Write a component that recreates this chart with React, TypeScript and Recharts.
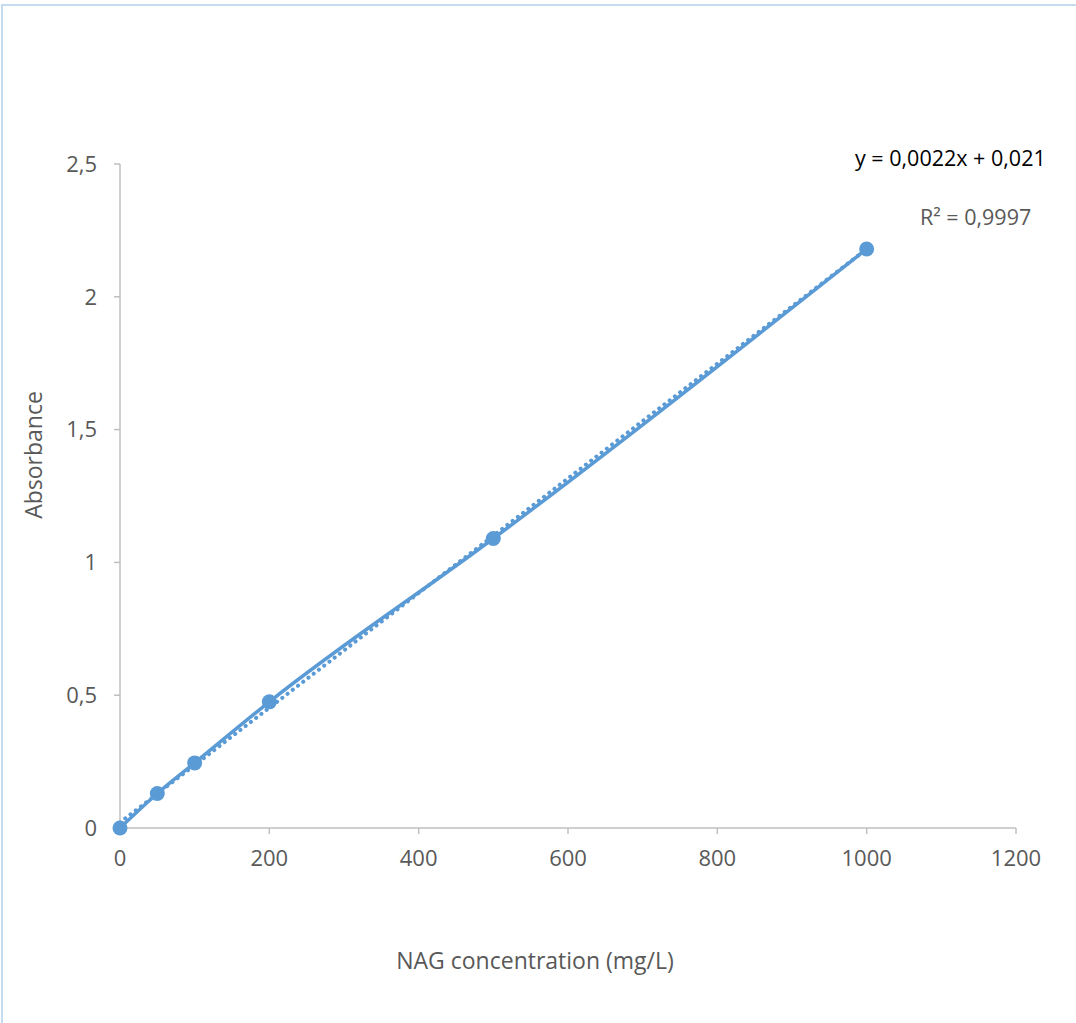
import { ComposedChart, Line, XAxis, YAxis } from 'recharts';

// NAG standard curve
const concentrations = [0, 50, 100, 200, 500, 1000];
const absorbances = [0, 0.13, 0.245, 0.475, 1.09, 2.18];

// linear trendline ends (y = 0,0022x + 0,021)
const trendX = [0, 1000];
const trendY = [0.021, 2.18];

const xTicks = [0, 200, 400, 600, 800, 1000, 1200];
const yTicks = [0, 0.5, 1, 1.5, 2, 2.5];

const equationText = 'y = 0,0022x + 0,021';
const r2Text = 'R² = 0,9997';
const xTitle = 'NAG concentration (mg/L)';
const yTitle = 'Absorbance';

const BLUE = '#5B9BD5';
const AXIS = '#BFBFBF';
const TEXT = '#595959';
const FONT = '"Open Sans", sans-serif';

const points = concentrations.map((x, i) => ({ x, y: absorbances[i] }));
const trend = trendX.map((x, i) => ({ x, y: trendY[i] }));

const comma = (v: number) => String(v).replace('.', ',');

export default function App() {
  return (
    <div
      style={{
        position: 'absolute',
        left: 0,
        top: 0,
        width: 1076,
        height: 1023,
        overflow: 'hidden',
        background: '#fff',
        fontFamily: FONT,
      }}
    >
      <div
        style={{
          position: 'absolute',
          left: 1,
          top: 4,
          width: 1100,
          height: 1050,
          borderLeft: '2px solid #C5DBEF',
          borderTop: '2px solid #C5DBEF',
        }}
      />
      <div style={{ position: 'absolute', left: 0, top: 0 }}>
        <ComposedChart width={1076} height={1023} margin={{ top: 164, right: 60, bottom: 0, left: 0 }}>
          <XAxis
            type="number"
            dataKey="x"
            domain={[0, 1200]}
            ticks={xTicks}
            height={195}
            stroke={AXIS}
            strokeWidth={1.5}
            tickSize={6}
            tickMargin={16}
            tick={{ fill: TEXT, fontSize: 22, fontFamily: FONT }}
          />
          <YAxis
            type="number"
            domain={[0, 2.5]}
            ticks={yTicks}
            width={120}
            stroke={AXIS}
            strokeWidth={1.5}
            tickSize={6}
            tickMargin={17}
            tickFormatter={comma}
            tick={{ fill: TEXT, fontSize: 22, fontFamily: FONT }}
          />
          <Line
            data={trend}
            dataKey="y"
            type="linear"
            stroke={BLUE}
            strokeWidth={4}
            strokeDasharray="0.1 6.5"
            strokeLinecap="round"
            dot={false}
            activeDot={false}
            isAnimationActive={false}
          />
          <Line
            data={points}
            dataKey="y"
            type="monotone"
            stroke={BLUE}
            strokeWidth={3.5}
            dot={{ r: 7.5, fill: BLUE, stroke: BLUE, strokeWidth: 0 }}
            activeDot={false}
            isAnimationActive={false}
          />
        </ComposedChart>
      </div>
      <div
        style={{
          position: 'absolute',
          left: 855,
          top: 143,
          fontSize: 21.5,
          color: '#000',
          whiteSpace: 'nowrap',
        }}
      >
        {equationText}
      </div>
      <div
        style={{
          position: 'absolute',
          left: 920,
          top: 202,
          fontSize: 21.5,
          color: TEXT,
          whiteSpace: 'nowrap',
        }}
      >
        {r2Text}
      </div>
      <div
        style={{
          position: 'absolute',
          left: 535,
          top: 960,
          transform: 'translate(-50%, -50%)',
          fontSize: 23,
          color: TEXT,
          whiteSpace: 'nowrap',
        }}
      >
        {xTitle}
      </div>
      <div
        style={{
          position: 'absolute',
          left: 33,
          top: 455,
          transform: 'translate(-50%, -50%) rotate(-90deg)',
          fontSize: 23,
          color: TEXT,
          whiteSpace: 'nowrap',
        }}
      >
        {yTitle}
      </div>
    </div>
  );
}
